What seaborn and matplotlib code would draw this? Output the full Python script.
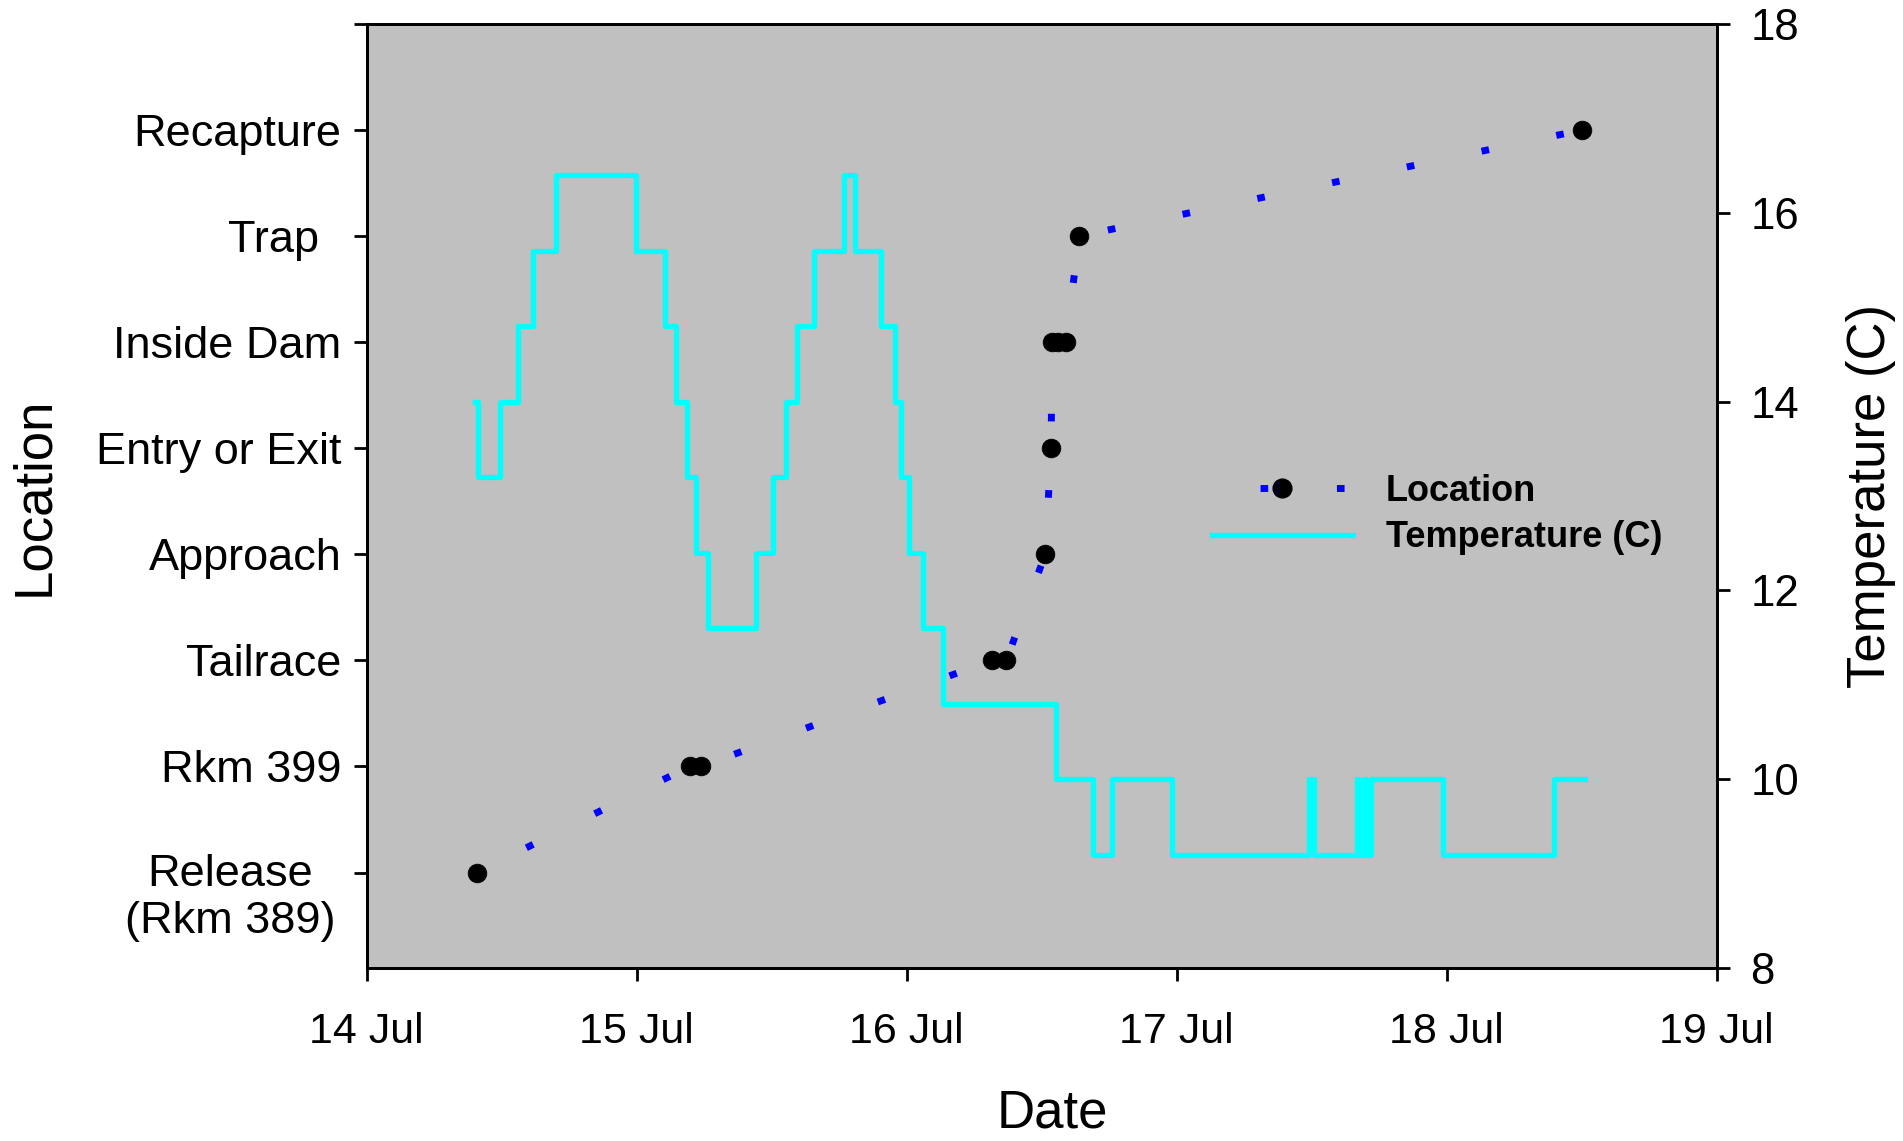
import numpy as np
import pandas as pd
import matplotlib
matplotlib.use('Agg')
import matplotlib.pyplot as plt
from matplotlib.lines import Line2D
import seaborn as sns

# Location fixes: day of July and location code
loc_day = [14.407, 15.196, 15.237, 16.316, 16.369, 16.513, 16.535,
           16.538, 16.561, 16.589, 16.639, 18.501]
loc_code = [0, 1, 1, 2, 2, 3, 4, 5, 5, 5, 6, 7]
loc_names = ['Release\n(Rkm 389)', 'Rkm 399', 'Tailrace', 'Approach',
             'Entry or Exit', 'Inside Dam', 'Trap\u2002', 'Recapture']

# Water temperature (C), step changes
temp_day = [14.400, 14.412, 14.493, 14.561, 14.617, 14.702, 14.997, 15.104,
            15.147, 15.185, 15.218, 15.263, 15.441, 15.505, 15.554, 15.594,
            15.658, 15.769, 15.810, 15.903, 15.957, 15.978, 16.009, 16.059,
            16.134, 16.554, 16.690, 16.759, 16.981, 17.490, 17.510, 17.666,
            17.674, 17.693, 17.700, 17.718, 17.988, 18.398, 18.514]
temp_c = [14.0, 13.2, 14.0, 14.8, 15.6, 16.4, 15.6, 14.8,
          14.0, 13.2, 12.4, 11.6, 12.4, 13.2, 14.0, 14.8,
          15.6, 16.4, 15.6, 14.8, 14.0, 13.2, 12.4, 11.6,
          10.8, 10.0, 9.2, 10.0, 9.2, 10.0, 9.2, 10.0,
          9.2, 10.0, 9.2, 10.0, 9.2, 10.0, 10.0]

date_ticks = [14, 15, 16, 17, 18, 19]
date_labels = ['14 Jul', '15 Jul', '16 Jul', '17 Jul', '18 Jul', '19 Jul']
temp_ticks = [8, 10, 12, 14, 16, 18]

plt.rcParams['font.family'] = ['Liberation Sans', 'DejaVu Sans']

loc_df = pd.DataFrame({'day': loc_day, 'code': loc_code})
temp_df = pd.DataFrame({'day': temp_day, 'temp': temp_c})

fig = plt.figure(figsize=(19.03, 11.41), dpi=100)
ax = fig.add_axes([0.1927, 0.1516, 0.7094, 0.8274])
ax.set_facecolor('#c0c0c0')
ax2 = ax.twinx()

# location track (sparse blue dashes, black dots)
sns.lineplot(data=loc_df, x='day', y='code', ax=ax, estimator=None, sort=False,
             color='blue', lw=5, marker='o', markersize=13.5,
             markerfacecolor='black', markeredgecolor='black', markeredgewidth=0.5)
ax.lines[0].set_linestyle((3, (1.1, 9.9)))

# temperature
sns.lineplot(data=temp_df, x='day', y='temp', ax=ax2, estimator=None, sort=False,
             color='cyan', lw=3.8, drawstyle='steps-post')

ax.set_xlim(14, 19)
ax.set_xticks(date_ticks)
ax.set_xticklabels(date_labels)
ax.set_ylim(-0.9, 8)
ax.set_yticks(range(9))
ax.set_yticklabels([''] + loc_names[1:] + [''])
ax.annotate(loc_names[0], xy=(0, 0), xycoords=ax.get_yaxis_transform(),
            xytext=(-22.8, 13.3), textcoords='offset points',
            ha='right', va='top', multialignment='center', fontsize=32.5)

ax2.set_ylim(8, 18)
ax2.set_yticks(temp_ticks)

for a in (ax, ax2):
    for s in a.spines.values():
        s.set_visible(True)
        s.set_color('black')
        s.set_linewidth(2)
ax.tick_params(axis='both', direction='out', length=9.4, width=2, colors='black')
ax.tick_params(axis='x', pad=22, labelsize=31)
ax.tick_params(axis='y', pad=8.6, labelsize=32.5)
ax2.tick_params(axis='y', direction='out', length=9.4, width=2, labelsize=31.5, pad=15, colors='black')

ax.set_xlabel('Date', fontsize=38)
ax.xaxis.set_label_coords(0.508, -0.128)
ax.set_ylabel('Location', fontsize=38)
ax.yaxis.set_label_coords(-0.228, 0.5)
ax2.set_ylabel('Temperature (C)', fontsize=38)
ax2.yaxis.set_label_coords(1.0958, 0.5)

h_loc = Line2D([], [], color='blue', lw=5, linestyle=(4.08, (1.1, 9.9)), marker='o',
               markersize=13.5, markerfacecolor='black', markeredgecolor='black')
h_temp = Line2D([], [], color='cyan', lw=3.8)
ax2.legend([h_loc, h_temp], ['Location', 'Temperature (C)'], loc='center left',
           bbox_to_anchor=(0.626, 0.4805), frameon=False,
           prop={'weight': 'bold', 'size': 26}, handlelength=3.9,
           handletextpad=0.92, labelspacing=0.32, borderpad=0, borderaxespad=0,
           numpoints=1)

fig.savefig('out.png', dpi=100)
